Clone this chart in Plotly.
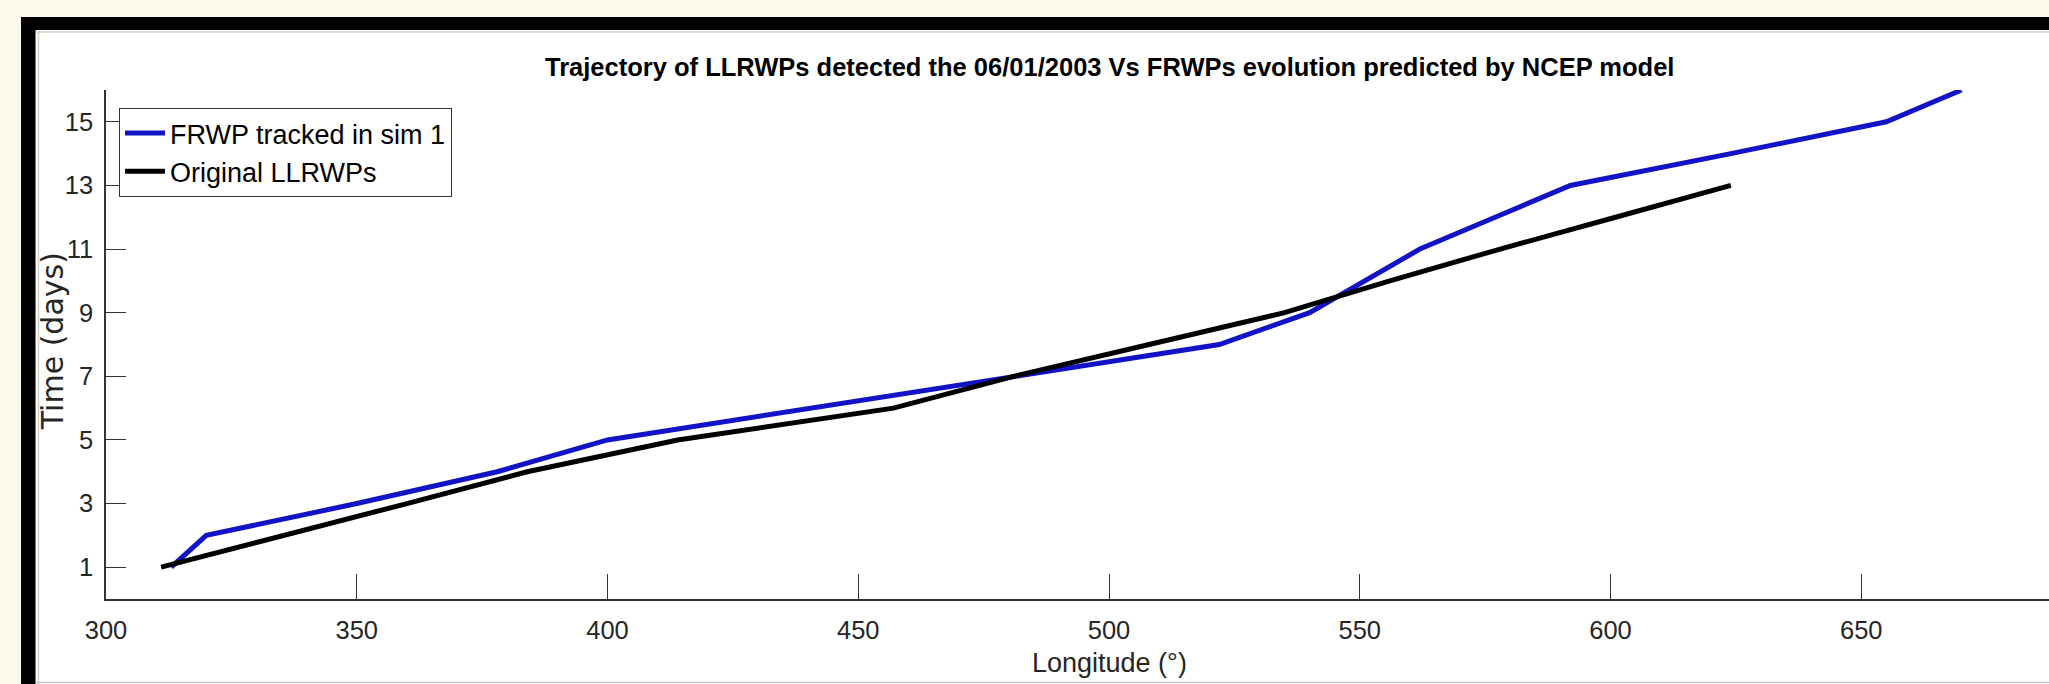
import plotly.graph_objects as go

# ---------------- data ----------------
frwp_lon = [313, 320, 350, 378, 400, 441, 481, 522, 540, 551, 562, 577, 592, 624, 655, 670]
frwp_day = [1, 2, 3, 4, 5, 6, 7, 8, 9, 10, 11, 12, 13, 14, 15, 16]

llrwp_lon = [311, 336, 360, 384, 414, 457, 481, 508, 535, 556, 578, 601, 624]
llrwp_day = [1, 2, 3, 4, 5, 6, 7, 8, 9, 10, 11, 12, 13]

x_tick_vals = [300, 350, 400, 450, 500, 550, 600, 650, 700]
y_tick_vals = [1, 3, 5, 7, 9, 11, 13, 15]

series_names = ["FRWP tracked in sim 1", "Original LLRWPs"]
title_text = "Trajectory of LLRWPs detected the 06/01/2003 Vs FRWPs evolution predicted by NCEP model"
x_title = "Longitude (°)"
y_title = "Time (days)"

# ---------------- layout geometry (pixels) ----------------
W, H = 2049, 684
L, R, T, B = 106, 0, 90, 85
PW, PH = W - L - R, H - T - B
X_PER_UNIT = 5.015
x_range = [300, 300 + PW / X_PER_UNIT]
y_range = [0, 16]


def px(x):
    return (x - L) / PW


def py(y):
    return (H - B - y) / PH


FONT = "Liberation Sans, Arial, sans-serif"
TXT = "#262626"
AX = "#333333"

fig = go.Figure()
fig.add_trace(go.Scatter(x=frwp_lon, y=frwp_day, mode="lines", name=series_names[0],
                         line=dict(color="#1212C6", width=5)))
fig.add_trace(go.Scatter(x=llrwp_lon, y=llrwp_day, mode="lines", name=series_names[1],
                         line=dict(color="#000000", width=5)))

shapes = [
    # white figure area
    dict(type="rect", xref="paper", yref="paper", x0=px(36), x1=px(2070), y0=py(700), y1=py(29),
         fillcolor="white", line=dict(width=0), layer="below"),
    # black frame top
    dict(type="rect", xref="paper", yref="paper", x0=px(21), x1=px(2070), y0=py(30), y1=py(17),
         fillcolor="black", line=dict(width=0), layer="above"),
    # black frame left
    dict(type="rect", xref="paper", yref="paper", x0=px(21), x1=px(35.5), y0=py(700), y1=py(17),
         fillcolor="black", line=dict(width=0), layer="above"),
    # thin inner borders
    dict(type="line", xref="paper", yref="paper", x0=px(38.5), x1=px(38.5), y0=py(700), y1=py(31),
         line=dict(color="#D6D0C2", width=1.5), layer="above"),
    dict(type="line", xref="paper", yref="paper", x0=px(36), x1=px(2070), y0=py(32), y1=py(32),
         line=dict(color="#D6D0C2", width=1.5), layer="above"),
    dict(type="line", xref="paper", yref="paper", x0=px(36), x1=px(2070), y0=py(682.5), y1=py(682.5),
         line=dict(color="#C8C8C8", width=1.5), layer="above"),
]

annotations = [
    dict(text="<b>" + title_text + "</b>", xref="x", x=500, yref="paper", y=py(67),
         xanchor="center", yanchor="middle", showarrow=False,
         font=dict(family=FONT, size=25.5, color="#000000")),
    dict(text=x_title, xref="x", x=500, yref="paper", y=py(663),
         xanchor="center", yanchor="middle", showarrow=False,
         font=dict(family=FONT, size=27, color=TXT)),
    dict(text=y_title, xref="paper", x=px(52), yref="y", y=8.1, textangle=-90,
         xanchor="center", yanchor="middle", showarrow=False,
         font=dict(family="DejaVu Sans", size=30, color=TXT)),
]

fig.update_layout(
    width=W, height=H,
    margin=dict(l=L, r=R, t=T, b=B, pad=0),
    paper_bgcolor="#FDF8EC",
    plot_bgcolor="white",
    showlegend=True,
    legend=dict(x=px(119), y=py(108), xanchor="left", yanchor="top",
                bgcolor="white", bordercolor=AX, borderwidth=1,
                font=dict(family=FONT, size=27, color="#000000"),
                itemwidth=40, tracegroupgap=0),
    shapes=shapes,
    annotations=annotations,
    xaxis=dict(range=x_range, tickvals=x_tick_vals, ticks="inside", ticklen=25, tickwidth=1,
               tickcolor=AX, showline=True, linecolor=AX, linewidth=1.5, showgrid=False,
               zeroline=False, mirror=False, ticklabelstandoff=8,
               tickfont=dict(family=FONT, size=25.5, color=TXT)),
    yaxis=dict(range=y_range, tickvals=y_tick_vals, ticks="inside", ticklen=20, tickwidth=1,
               tickcolor=AX, showline=True, linecolor=AX, linewidth=1.5, showgrid=False,
               zeroline=False, mirror=False, ticklabelstandoff=6,
               tickfont=dict(family=FONT, size=25.5, color=TXT)),
)

fig.write_html("out.html")
